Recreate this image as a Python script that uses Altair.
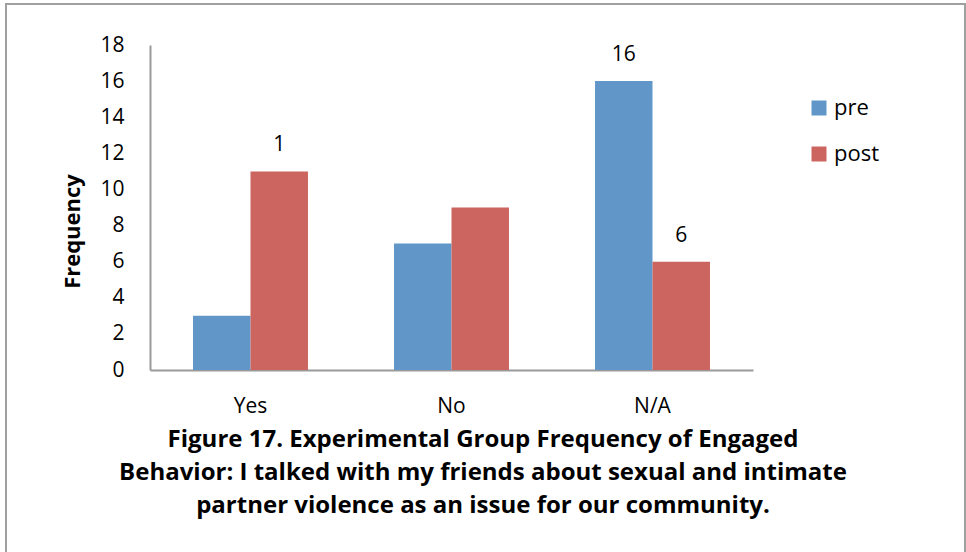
import altair as alt
import pandas as pd

# Survey responses and counts per phase
categories = ["Yes", "No", "N/A"]
series = ["pre", "post"]
pre_counts = [3, 7, 16]
post_counts = [11, 9, 6]
pre_labels = ["", "", "16"]
post_labels = ["1", "", "6"]

colors = ["#6196C8", "#CC6560"]
title_lines = [
    "Figure 17. Experimental Group Frequency of Engaged",
    "Behavior: I talked with my friends about sexual and intimate",
    "partner violence as an issue for our community.",
]

rows = []
for cat, v, lab in zip(categories, pre_counts, pre_labels):
    rows.append({"category": cat, "phase": "pre", "count": v, "label": lab})
for cat, v, lab in zip(categories, post_counts, post_labels):
    rows.append({"category": cat, "phase": "post", "count": v, "label": lab})
df = pd.DataFrame(rows)

FONT = "Open Sans"
AXIS_GRAY = "#9A9A9A"

x_enc = alt.X(
    "category:N",
    sort=categories,
    scale=alt.Scale(paddingInner=0.428, paddingOuter=0.214),
    axis=alt.Axis(
        title=None,
        labelAngle=0,
        labelFont=FONT,
        labelFontSize=21,
        labelColor="#000000",
        labelPadding=25,
        ticks=False,
        domainColor=AXIS_GRAY,
        domainWidth=2,
    ),
)
xoff_enc = alt.XOffset(
    "phase:N", sort=series, scale=alt.Scale(paddingInner=0, paddingOuter=0)
)
y_enc = alt.Y(
    "count:Q",
    scale=alt.Scale(domain=[0, 18], nice=False),
    axis=alt.Axis(
        title="Frequency",
        titleFont=FONT,
        titleFontSize=22,
        titleFontWeight="bold",
        titleColor="#000000",
        titlePadding=15,
        titleY=186,
        values=list(range(0, 19, 2)),
        labelOverlap=False,
        labelFont=FONT,
        labelFontSize=21,
        labelColor="#000000",
        labelPadding=26,
        ticks=False,
        grid=False,
        domainColor=AXIS_GRAY,
        domainWidth=2,
    ),
)

bars = alt.Chart(df).mark_bar().encode(
    x=x_enc,
    xOffset=xoff_enc,
    y=y_enc,
    color=alt.Color(
        "phase:N",
        sort=series,
        scale=alt.Scale(domain=series, range=colors),
        legend=alt.Legend(
            title=None,
            orient="none",
            legendX=658,
            legendY=52,
            symbolType="square",
            symbolSize=225,
            symbolStrokeWidth=0,
            labelFont=FONT,
            labelFontSize=22,
            labelColor="#000000",
            labelOffset=4,
            rowPadding=24,
        ),
    ),
)

labels = alt.Chart(df).mark_text(
    font=FONT, fontSize=21, color="#000000", baseline="alphabetic", dy=-20
).encode(
    x=x_enc,
    xOffset=xoff_enc,
    y=y_enc,
    text="label:N",
)

# Outer frame around the whole figure
frame = alt.Chart(pd.DataFrame({"k": [0]})).mark_rect(
    fill=None, stroke="#A0A0A0", strokeWidth=2
).encode(
    x=alt.value(-144), x2=alt.value(815), y=alt.value(-41), y2=alt.value(600)
)

# Figure caption centred under the plot
caption = alt.Chart(pd.DataFrame({"caption": ["\n".join(title_lines)]})).mark_text(
    font=FONT,
    fontSize=24,
    fontWeight="bold",
    color="#000000",
    align="center",
    baseline="alphabetic",
    lineBreak="\n",
    lineHeight=33,
).encode(
    x=alt.value(333), y=alt.value(402), text="caption:N"
)

chart = (
    alt.layer(frame, bars, labels, caption)
    .properties(
        width=603,
        height=325,
        background="#FFFFFF",
        autosize=alt.AutoSizeParams(type="none"),
        padding={"left": 150, "top": 45, "right": 213, "bottom": 182},
    )
    .configure_view(stroke="transparent", strokeWidth=0)
)

chart.save("out.html", embed_options={"renderer": "svg", "actions": False})
